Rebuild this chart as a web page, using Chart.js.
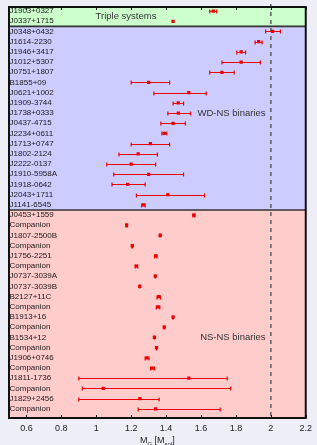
<!DOCTYPE html>
<html>
<head>
<meta charset="utf-8">
<script src="https://cdn.jsdelivr.net/npm/chart.js@4.4.1/dist/chart.umd.min.js"></script>
<style>
  html, body { margin: 0; padding: 0; background: #eeeef6; }
  canvas { display: block; }
</style>
</head>
<body>
<canvas id="massChart" width="317" height="445"></canvas>
<script>
// row labels, top to bottom
const names = [
  'J1903+0327', 'J0337+1715',
  'J0348+0432', 'J1614-2230', 'J1946+3417', 'J1012+5307', 'J0751+1807', 'B1855+09',
  'J0621+1002', 'J1909-3744', 'J1738+0333', 'J0437-4715', 'J2234+0611', 'J1713+0747',
  'J1802-2124', 'J2222-0137', 'J1910-5958A', 'J1918-0642', 'J2043+1711', 'J1141-6545',
  'J0453+1559', 'Companion', 'J1807-2500B', 'Companion', 'J1756-2251', 'Companion',
  'J0737-3039A', 'J0737-3039B', 'B2127+11C', 'Companion', 'B1913+16', 'Companion',
  'B1534+12', 'Companion', 'J1906+0746', 'Companion', 'J1811-1736', 'Companion',
  'J1829+2456', 'Companion'
];
const masses = [
  1.67, 1.44,
  2.01, 1.93, 1.83, 1.83, 1.72, 1.30,
  1.53, 1.47, 1.47, 1.44, 1.39, 1.31,
  1.24, 1.20, 1.30, 1.18, 1.41, 1.27,
  1.559, 1.174, 1.366, 1.206, 1.341, 1.230,
  1.338, 1.249, 1.358, 1.354, 1.440, 1.389,
  1.333, 1.345, 1.291, 1.322, 1.53, 1.04,
  1.25, 1.34
];
const errLow = [
  0.02, 0,
  0.04, 0.02, 0.025, 0.11, 0.07, 0.10,
  0.20, 0.03, 0.06, 0.07, 0.014, 0.11,
  0.11, 0.14, 0.20, 0.09, 0.18, 0.01,
  0.005, 0.004, 0.003, 0.002, 0.007, 0.007,
  0.001, 0.001, 0.010, 0.010, 0.002, 0.002,
  0.001, 0.001, 0.011, 0.011, 0.63, 0.12,
  0.35, 0.10
];
const errHigh = [
  0.02, 0,
  0.045, 0.02, 0.025, 0.11, 0.07, 0.12,
  0.10, 0.03, 0.07, 0.07, 0.014, 0.11,
  0.11, 0.14, 0.20, 0.10, 0.21, 0.01,
  0.005, 0.004, 0.003, 0.002, 0.007, 0.007,
  0.001, 0.001, 0.010, 0.010, 0.002, 0.002,
  0.001, 0.001, 0.011, 0.011, 0.22, 0.73,
  0.11, 0.37
];
const groupNames = ['Triple systems', 'WD-NS binaries', 'NS-NS binaries'];
const groupFirst = [0, 2, 20];
const groupLast = [1, 19, 39];
const xTicks = [0.6, 0.8, 1.0, 1.2, 1.4, 1.6, 1.8, 2.0, 2.2];
const maxMassLine = 2.0;

// drawing config
const bandColors = ['#ccffcc', '#ccccff', '#ffcccc'];
const groupLabelPos = [
  { x: 1.17, row: 0.5, align: 'center' },
  { x: 1.97, row: 10, align: 'right' },
  { x: 1.97, row: 32, align: 'right' },
];
const red = '#ee0000';
const font = '"Liberation Sans", Arial, sans-serif';

const points = masses.map((m, i) => ({ x: m, y: i }));

const decorPlugin = {
  id: 'decor',
  beforeDatasetsDraw(chart) {
    const { ctx, chartArea: a, scales: { x, y } } = chart;
    ctx.save();
    // group bands
    groupFirst.forEach((g, k) => {
      const top = k === 0 ? a.top : y.getPixelForValue(g - 0.5);
      const bot = k === groupFirst.length - 1 ? a.bottom : y.getPixelForValue(groupLast[k] + 0.5);
      ctx.fillStyle = bandColors[k];
      ctx.fillRect(a.left, top, a.right - a.left, bot - top);
    });
    // separators
    ctx.strokeStyle = '#333';
    ctx.lineWidth = 1.6;
    groupFirst.slice(1).forEach(g => {
      const yy = y.getPixelForValue(g - 0.5);
      ctx.beginPath();
      ctx.moveTo(a.left, yy);
      ctx.lineTo(a.right, yy);
      ctx.stroke();
    });
    // 2 Msol line
    const xd = x.getPixelForValue(maxMassLine);
    ctx.strokeStyle = '#666';
    ctx.lineWidth = 1.6;
    ctx.setLineDash([4, 4]);
    ctx.beginPath();
    ctx.moveTo(xd, a.top - 3);
    ctx.lineTo(xd, a.bottom);
    ctx.stroke();
    ctx.setLineDash([]);
    // row labels
    ctx.fillStyle = '#1a1a1a';
    ctx.font = '8px ' + font;
    ctx.textBaseline = 'middle';
    ctx.textAlign = 'left';
    names.forEach((n, i) => ctx.fillText(n, a.left + 0.5, y.getPixelForValue(i)));
    // group titles
    ctx.font = '9.5px ' + font;
    ctx.fillStyle = '#333';
    groupNames.forEach((g, k) => {
      const p = groupLabelPos[k];
      ctx.textAlign = p.align;
      ctx.fillText(g, x.getPixelForValue(p.x), y.getPixelForValue(p.row));
    });
    // error bars
    ctx.strokeStyle = red;
    ctx.lineWidth = 1.2;
    masses.forEach((m, i) => {
      if (!errLow[i] && !errHigh[i]) return;
      const yy = Math.round(y.getPixelForValue(i)) + 0.5;
      const x1 = x.getPixelForValue(m - errLow[i]);
      const x2 = x.getPixelForValue(m + errHigh[i]);
      ctx.beginPath();
      ctx.moveTo(x1, yy);
      ctx.lineTo(x2, yy);
      ctx.moveTo(x1, yy - 2);
      ctx.lineTo(x1, yy + 2);
      ctx.moveTo(x2, yy - 2);
      ctx.lineTo(x2, yy + 2);
      ctx.stroke();
    });
    ctx.restore();
  },
  afterDraw(chart) {
    const { ctx, chartArea: a, scales: { x } } = chart;
    ctx.save();
    // ticks inward on top and bottom
    ctx.strokeStyle = '#222';
    ctx.lineWidth = 1;
    xTicks.forEach(t => {
      const xx = Math.round(x.getPixelForValue(t)) + 0.5;
      ctx.beginPath();
      ctx.moveTo(xx, a.bottom);
      ctx.lineTo(xx, a.bottom - 3);
      ctx.moveTo(xx, a.top);
      ctx.lineTo(xx, a.top + 3);
      ctx.stroke();
    });
    // frame
    ctx.strokeStyle = '#111';
    ctx.lineWidth = 2;
    ctx.strokeRect(a.left, a.top, a.right - a.left, a.bottom - a.top);
    // axis title M_G [M_sol]
    const parts = [['M', 9, 0], ['G', 6, 2.5], [' [M', 9, 0], ['sol', 6, 2.5], [']', 9, 0]];
    let w = 0;
    parts.forEach(p => { ctx.font = p[1] + 'px ' + font; w += ctx.measureText(p[0]).width; });
    let cx = (a.left + a.right) / 2 - w / 2;
    ctx.fillStyle = '#222';
    ctx.textBaseline = 'alphabetic';
    ctx.textAlign = 'left';
    parts.forEach(p => {
      ctx.font = p[1] + 'px ' + font;
      ctx.fillText(p[0], cx, 443 + p[2]);
      cx += ctx.measureText(p[0]).width;
    });
    ctx.restore();
  }
};

new Chart(document.getElementById('massChart'), {
  type: 'scatter',
  data: {
    datasets: [{
      data: points,
      backgroundColor: red,
      borderColor: red,
      pointStyle: 'rect',
      pointRadius: 2.3,
      borderWidth: 0
    }]
  },
  options: {
    responsive: false,
    animation: false,
    layout: { padding: { left: 9, top: 7, right: 8, bottom: 0 } },
    plugins: { legend: { display: false }, tooltip: { enabled: false } },
    scales: {
      x: {
        type: 'linear',
        min: 0.5,
        max: 2.2,
        afterBuildTicks(scale) { scale.ticks = xTicks.map(v => ({ value: v })); },
        afterFit(scale) { scale.height = 27; },
        ticks: {
          autoSkip: false,
          maxRotation: 0,
          padding: 5,
          color: '#222',
          font: { size: 9, family: font },
          callback: v => String(+v.toFixed(1))
        },
        grid: { display: false, drawTicks: false },
        border: { display: false }
      },
      y: {
        type: 'linear',
        display: false,
        reverse: true,
        min: -0.4,
        max: 39.9
      }
    }
  },
  plugins: [decorPlugin]
});
</script>
</body>
</html>
